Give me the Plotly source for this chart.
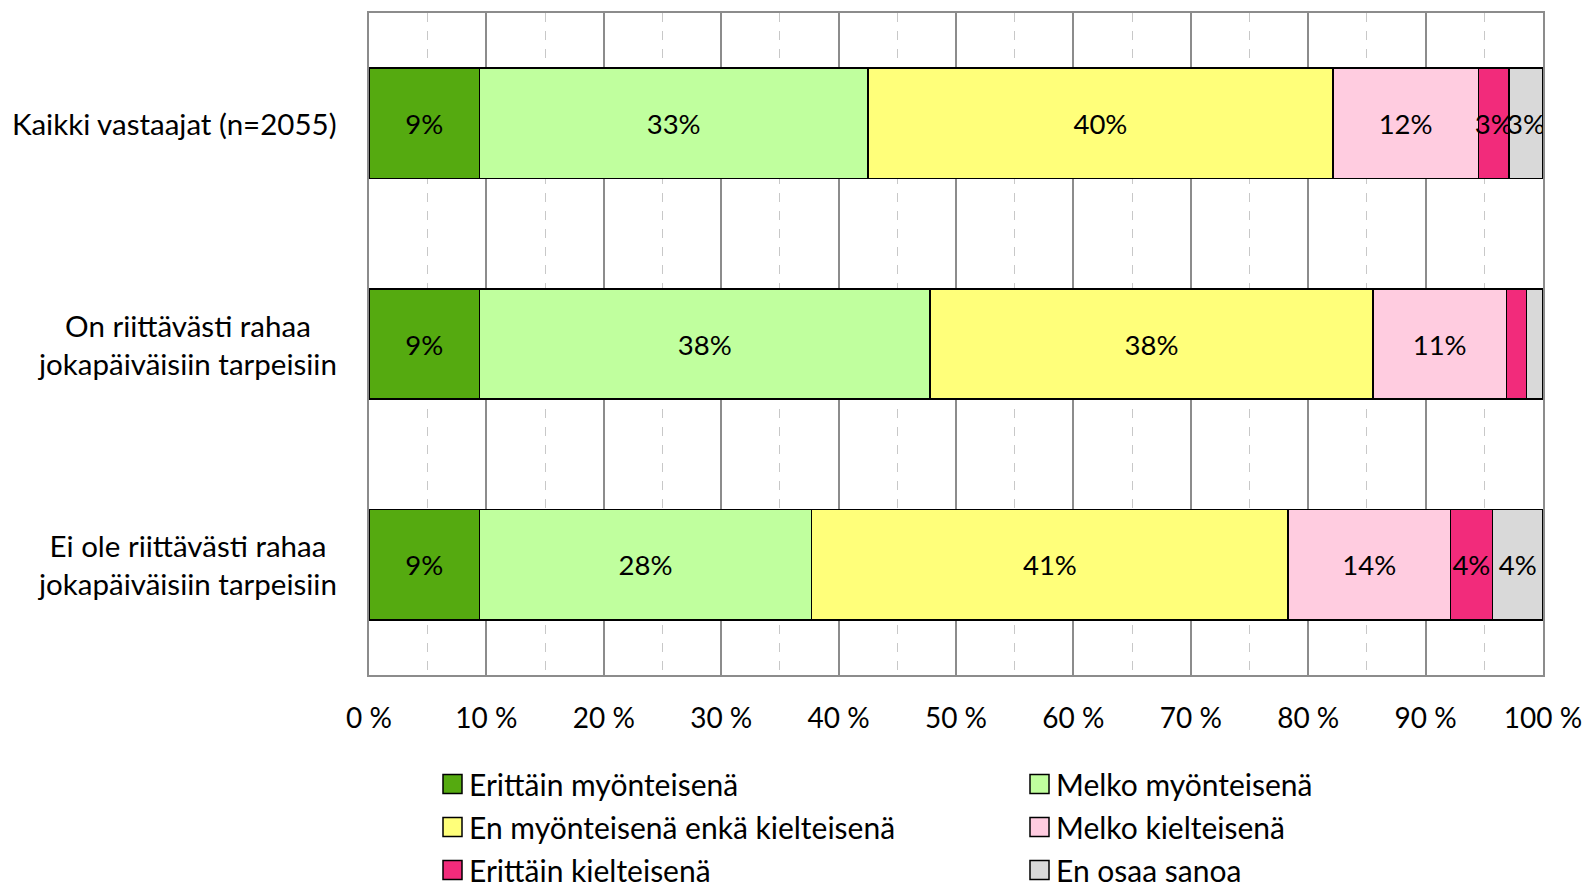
import plotly.graph_objects as go

categories = [
    "Kaikki vastaajat (n=2055)",
    "On riittävästi rahaa<br>jokapäiväisiin tarpeisiin",
    "Ei ole riittävästi rahaa<br>jokapäiväisiin tarpeisiin",
]
series_names = [
    "Erittäin myönteisenä",
    "Melko myönteisenä",
    "En myönteisenä enkä kielteisenä",
    "Melko kielteisenä",
    "Erittäin kielteisenä",
    "En osaa sanoa",
]
# values per series, order follows categories
erittain_myont = [9.4, 9.4, 9.4]
melko_myont = [33.1, 38.4, 28.3]
neutraali = [39.6, 37.7, 40.6]
melko_kielt = [12.4, 11.4, 13.8]
erittain_kielt = [2.6, 1.7, 3.6]
eos = [2.9, 1.4, 4.3]
series_values = [erittain_myont, melko_myont, neutraali, melko_kielt, erittain_kielt, eos]
colors = ["#55AA10", "#C0FF9E", "#FFFF7A", "#FFCCE0", "#F22B7B", "#D9D9D9"]

tick_vals = list(range(0, 101, 10))
tick_text = [f"{v} %" for v in tick_vals]

FONT = "Lato, Carlito, Calibri, sans-serif"
W, H = 1586, 883
ML, MR, MT, MB = 369, 43, 13, 208
PW, PH = W - ML - MR, H - MT - MB

fig = go.Figure()
for name, vals, col in zip(series_names, series_values, colors):
    labels = [f"{round(v)}%" if v >= 2.5 else "" for v in vals]
    fig.add_trace(go.Bar(
        y=categories, x=vals, name=name, orientation="h",
        marker=dict(color=col, line=dict(color="black", width=1.5)),
        text=labels, textposition="inside", insidetextanchor="middle",
        textangle=0, constraintext="none",
        textfont=dict(size=27.5, color="black", family=FONT),
        hoverinfo="x+name", showlegend=False,
    ))

for c in categories:
    fig.add_annotation(
        x=0, xref="paper", y=c, yref="y", xanchor="right", yanchor="middle",
        xshift=-30, text=c, showarrow=False, align="center",
        font=dict(size=29.5, color="black", family=FONT),
    )

# manual two-column legend (row-major order)
col_px = [443, 1030]
row_py = [784, 827, 870]
sq = 19
for i, (name, col) in enumerate(zip(series_names, colors)):
    cx = col_px[i % 2]
    cy = row_py[i // 2]
    x0 = (cx - ML) / PW
    x1 = (cx + sq - ML) / PW
    y0 = (MT + PH - (cy + sq / 2)) / PH
    y1 = (MT + PH - (cy - sq / 2)) / PH
    fig.add_shape(type="rect", xref="paper", yref="paper", x0=x0, x1=x1, y0=y0, y1=y1,
                  fillcolor=col, line=dict(color="black", width=1.5), layer="above")
    fig.add_annotation(
        x=(cx + sq + 5 - ML) / PW, xref="paper", y=(MT + PH - cy) / PH, yref="paper",
        xanchor="left", yanchor="middle", text=name, showarrow=False,
        font=dict(size=30, color="black", family=FONT),
    )

fig.update_layout(
    barmode="stack",
    bargap=0.5,
    width=W, height=H,
    margin=dict(l=ML, r=MR, t=MT, b=MB, autoexpand=False),
    plot_bgcolor="white", paper_bgcolor="white",
    font=dict(family=FONT, size=28, color="black"),
    uniformtext=dict(minsize=27.5, mode="show"),
    showlegend=False,
    xaxis=dict(
        range=[0, 100], tickvals=tick_vals, ticktext=tick_text,
        showgrid=True, gridcolor="#8C8C8C", gridwidth=1.5,
        showline=True, linecolor="#8C8C8C", linewidth=1.5, mirror=True,
        ticks="", ticklabelstandoff=18,
        tickfont=dict(size=28, family=FONT),
        minor=dict(dtick=5, tick0=0, showgrid=True, gridcolor="#C8C8C8",
                   griddash="dash", gridwidth=1.2),
        zeroline=False, fixedrange=True,
    ),
    yaxis=dict(
        categoryorder="array", categoryarray=categories[::-1],
        showticklabels=False, ticks="",
        showline=True, linecolor="#8C8C8C", linewidth=1.5, mirror=True,
        showgrid=False, zeroline=False, fixedrange=True,
    ),
)

fig.write_html(
    "out.html",
    config={"displayModeBar": False},
    post_script="document.body.style.margin='0';document.body.style.overflow='hidden';",
)
